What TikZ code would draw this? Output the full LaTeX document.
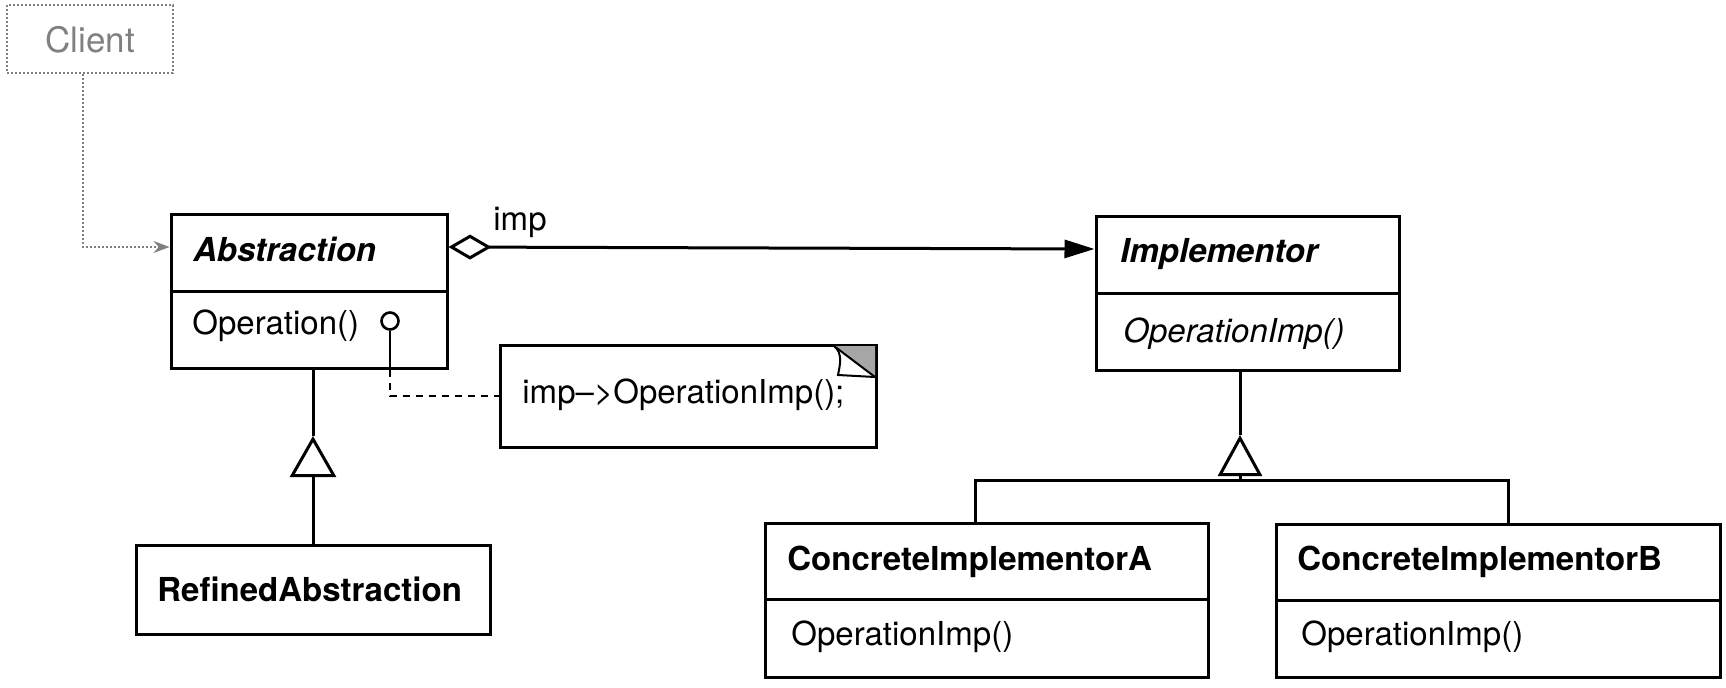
\documentclass[tikz,border=0pt]{standalone}
\usepackage{fontspec}
\setmainfont{TeX Gyre Heros}
\usetikzlibrary{arrows.meta}
\begin{document}
\begin{tikzpicture}[x=0.5pt,y=-0.5pt,
  box/.style={draw,line width=1.5pt,rectangle,inner sep=0pt,minimum width=#1},
  txt/.style={anchor=base west,inner sep=0pt,font=\fontsize{16.5}{18}\selectfont},
  conn/.style={line width=1.5pt},
  dsh/.style={line width=1.2pt,dash pattern=on 3.5pt off 3pt}]
\useasboundingbox (0,0) rectangle (1726,687);
% boxes
\node[draw=gray,densely dotted,line width=1pt,inner sep=0pt,minimum width=83pt,minimum height=34pt] (client) at (90,39) {};
\node[box=138pt,minimum height=38.5pt] (abshead) at (309,252.5) {};
\node[box=138pt,minimum height=38.5pt] (absbody) at (309,329.5) {};
\node[box=188pt,minimum height=51pt] (note) at (688,396) {};
\node[box=177pt,minimum height=44.5pt] (refined) at (313,589.5) {};
\node[box=151.5pt,minimum height=38.5pt] (imphead) at (1247.5,254.5) {};
\node[box=151.5pt,minimum height=38.5pt] (impbody) at (1247.5,331.5) {};
\node[box=221.5pt,minimum height=38pt] (cahead) at (986.5,561) {};
\node[box=221.5pt,minimum height=39pt] (cabody) at (986.5,638) {};
\node[box=222pt,minimum height=38pt] (cbhead) at (1498,562) {};
\node[box=222pt,minimum height=38.5pt] (cbbody) at (1498,638.5) {};
% texts
\node[txt,text=gray,font=\fontsize{17.5}{19}\selectfont] (tclient) at (45,52) {Client};
\node[txt,font=\fontsize{16.5}{18}\selectfont\bfseries\itshape] (tabs) at (193,261) {Abstraction};
\node[txt] (top) at (192,334) {Operation()};
\node[txt] (timp) at (493,230) {imp};
\node[txt] (tnote) at (522,403) {imp\textendash>OperationImp();};
\node[txt,font=\fontsize{16.5}{18}\selectfont\bfseries] (tref) at (157,601) {RefinedAbstraction};
\node[txt,font=\fontsize{16.5}{18}\selectfont\bfseries\itshape] (timpl) at (1120,262) {Implementor};
\node[txt,font=\fontsize{16.5}{18}\selectfont\itshape] (timplop) at (1123,342) {OperationImp()};
\node[txt,font=\fontsize{16.5}{18}\selectfont\bfseries] (tca) at (787,570) {ConcreteImplementorA};
\node[txt] (tcaop) at (791,645) {OperationImp()};
\node[txt,font=\fontsize{16.5}{18}\selectfont\bfseries] (tcb) at (1297,570) {ConcreteImplementorB};
\node[txt] (tcbop) at (1301,645) {OperationImp()};
% client connector
\draw[gray,densely dotted,line width=1pt,-{Stealth[length=8pt,width=6pt]}]
  ([xshift=-3.5pt]client.south) |- ([yshift=2.75pt]abshead.west);
% aggregation
\draw[conn,{Diamond[open,length=21.5pt,width=12.5pt]}-{Triangle[length=15pt,width=9pt]}]
  ([yshift=2.75pt]abshead.east) -- ([yshift=2.75pt]imphead.west);
% operation note link
\node[draw,circle,line width=1.3pt,inner sep=0pt,minimum size=8.5pt] (opc) at (390,321) {};
\draw[line width=1.3pt] (opc.south) -- (opc.south |- absbody.south);
\draw[dsh] (opc.south |- absbody.south) |- (note.west);
% note dog-ear
\fill[gray!70] (834,346) -- (875,346) -- (875,377) -- cycle;
\draw[line width=1pt] (834,346) .. controls (843,353) and (840,365) .. (838,375) -- (875,377);
\draw[line width=1pt] (834,346) -- (875,377);
% generalization left
\coordinate (gl) at (313,436);
\draw[conn] (gl) -- (gl |- absbody.south);
\draw[conn,-{Triangle[open,length=20.5pt,width=23pt]}] (refined.north) -- (gl);
% generalization right
\coordinate (gr) at (1240,435);
\coordinate (barm) at (1240,480);
\coordinate (da) at (975,480);
\coordinate (db) at (1508,480);
\draw[conn] (gr) -- (gr |- impbody.south);
\draw[conn,-{Triangle[open,length=20.5pt,width=22pt]}] (barm) -- (gr);
\draw[conn] (da |- cahead.north) -- (da) -- (db) -- (db |- cbhead.north);
\end{tikzpicture}
\end{document}
